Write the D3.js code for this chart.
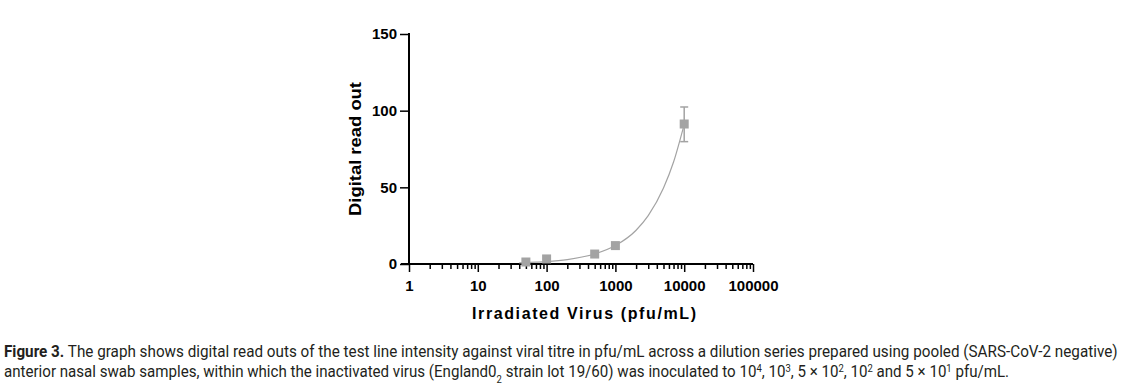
<!DOCTYPE html>
<html>
  <head>
    <meta charset="UTF-8">
    <style>
      body { margin: 0; background: #fff; }
      .axis text { font: bold 15px "Liberation Sans", Arial, sans-serif; fill: #000; }
      .title { font: bold 16px "Liberation Sans", Arial, sans-serif; fill: #000; }
      .cap { font: 16px Roboto, sans-serif; fill: #231f20; }
    </style>
    <script src="https://d3js.org/d3.v7.min.js"></script>
  </head>
  <body>
    <script>
      // dilution series (pfu/mL) and digital read out
      var titre = [50, 100, 500, 1000, 10000];
      var readOut = [1.3, 3.3, 6.5, 12, 91.3];
      var errLow = [1.3, 3.3, 6.5, 12, 79.8];
      var errHigh = [1.3, 3.3, 6.5, 12, 102.4];
      // fitted curve
      var fitX = [40, 70, 100, 200, 500, 1000, 2000, 3000, 5000, 7000, 10000];
      var fitY = [0.7, 1.2, 1.6, 2.9, 6.5, 12, 22, 31.5, 49.5, 66.5, 91.1];
      var yTicks = [0, 50, 100, 150];
      var xTicks = [1, 10, 100, 1000, 10000, 100000];

      var width = 1130, height = 386;
      var svg = d3.select("body").append("svg")
        .attr("width", width).attr("height", height);

      var x = d3.scaleLog().domain([1, 100000]).range([409, 753]);
      var y = d3.scaleLinear().domain([0, 150]).range([264, 34]);

      var grey = "#a3a3a3";

      // x axis with decade and minor ticks
      var minor = [];
      for (var k = 0; k < 5; k++) {
        for (var m = 2; m <= 9; m++) minor.push(m * Math.pow(10, k));
      }
      var gx = svg.append("g").attr("class", "axis")
        .attr("transform", "translate(0," + y(0) + ")");
      gx.append("g").call(d3.axisBottom(x).tickValues(minor).tickSize(5).tickFormat(""))
        .call(function(g) { g.select(".domain").remove(); g.selectAll("line").attr("stroke-width", 1.5); });
      gx.append("g").call(d3.axisBottom(x).tickValues(xTicks).tickSize(8).tickPadding(8)
          .tickFormat(d3.format("d")))
        .call(function(g) {
          g.select(".domain").attr("stroke-width", 2).attr("d", "M401,0H753");
          g.selectAll("line").attr("stroke-width", 1.5);
        });

      var gy = svg.append("g").attr("class", "axis")
        .attr("transform", "translate(" + x(1) + ",0)");
      gy.call(d3.axisLeft(y).tickValues(yTicks).tickSize(9).tickPadding(3))
        .call(function(g) {
          g.select(".domain").attr("stroke-width", 2).attr("d", "M0,33V265");
          g.selectAll("line").attr("stroke-width", 1.5);
        });

      // fitted curve
      svg.append("path")
        .datum(fitX.map(function(d, i) { return [d, fitY[i]]; }))
        .attr("fill", "none").attr("stroke", grey).attr("stroke-width", 1.2)
        .attr("d", d3.line().x(function(d) { return x(d[0]); }).y(function(d) { return y(d[1]); })
          .curve(d3.curveMonotoneX));

      // error bars
      var eb = svg.append("g").attr("stroke", grey).attr("stroke-width", 1.5);
      titre.forEach(function(d, i) {
        if (errHigh[i] - errLow[i] < 1) return;
        eb.append("line").attr("x1", x(d)).attr("x2", x(d)).attr("y1", y(errLow[i])).attr("y2", y(errHigh[i]));
        eb.append("line").attr("x1", x(d) - 4).attr("x2", x(d) + 4).attr("y1", y(errLow[i])).attr("y2", y(errLow[i]));
        eb.append("line").attr("x1", x(d) - 4).attr("x2", x(d) + 4).attr("y1", y(errHigh[i])).attr("y2", y(errHigh[i]));
      });

      svg.append("g").selectAll("rect").data(titre).enter().append("rect")
        .attr("x", function(d) { return x(d) - 4.5; })
        .attr("y", function(d, i) { return y(readOut[i]) - 4.5; })
        .attr("width", 9).attr("height", 9)
        .attr("fill", grey);

      // axis titles
      svg.append("text").attr("class", "title")
        .attr("x", 584).attr("y", 319).attr("text-anchor", "middle")
        .attr("textLength", 224).attr("lengthAdjust", "spacing")
        .text("Irradiated Virus (pfu/mL)");
      svg.append("text").attr("class", "title")
        .attr("transform", "translate(361,149) rotate(-90)")
        .attr("text-anchor", "middle")
        .attr("textLength", 134).attr("lengthAdjust", "spacingAndGlyphs")
        .text("Digital read out");

      // caption, squeezed to the condensed width of the original
      function fit(t, x0, w) {
        var len = t.node().getComputedTextLength();
        t.attr("transform", "translate(" + x0 + ",0) scale(" + (w / len) + ",1)");
      }
      var c1 = svg.append("text").attr("class", "cap").attr("x", 0).attr("y", 357);
      c1.append("tspan").attr("font-weight", "bold").text("Figure 3.");
      c1.append("tspan").text(" The graph shows digital read outs of the test line intensity against viral titre in pfu/mL across a dilution series prepared using pooled (SARS-CoV-2 negative)");
      fit(c1, 4, 1114);

      var c2 = svg.append("text").attr("class", "cap").attr("x", 0).attr("y", 377);
      var parts = [
        ["anterior nasal swab samples, within which the inactivated virus (England0", ""],
        ["2", "sub"], [" strain lot 19/60) was inoculated to 10", ""], ["4", "super"], [", 10", ""], ["3", "super"],
        [", 5 \u00d7 10", ""], ["2", "super"], [", 10", ""], ["2", "super"], [" and 5 \u00d7 10", ""], ["1", "super"], [" pfu/mL.", ""]
      ];
      parts.forEach(function(p) {
        var t = c2.append("tspan").text(p[0]);
        if (p[1]) t.attr("baseline-shift", p[1]).style("font-size", "10px");
      });
      fit(c2, 4, 1006);
    </script>
  </body>
</html>
